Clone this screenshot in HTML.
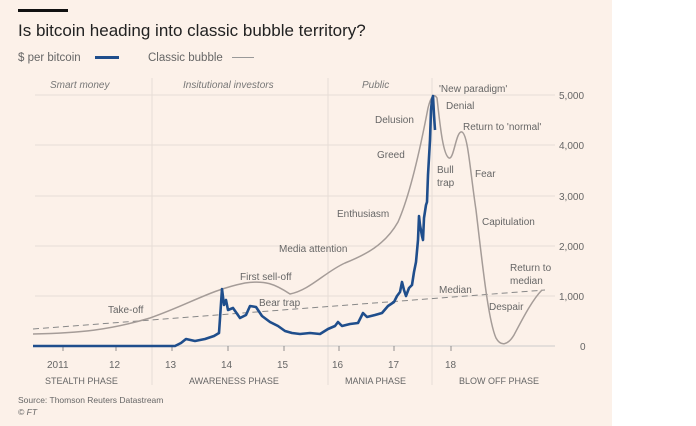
<!DOCTYPE html>
<html><head><meta charset="utf-8"><style>
body{margin:0;width:696px;height:426px;background:#fff;overflow:hidden;font-family:"Liberation Sans",sans-serif}
</style></head><body>
<svg width="696" height="426" style="position:absolute;left:0;top:0" font-family="Liberation Sans, sans-serif">
<rect x="0" y="0" width="612" height="426" fill="#fcf1e9"/>
<rect x="18" y="9" width="50" height="3" fill="#111"/>
<text x="18" y="36" font-size="17" fill="#222">Is bitcoin heading into classic bubble territory?</text>
<text x="18" y="61" font-size="11.5" fill="#666">$ per bitcoin</text>
<rect x="95" y="56" width="24" height="3" fill="#1f4e8c"/>
<text x="148" y="61" font-size="11.5" fill="#666">Classic bubble</text>
<rect x="232" y="57" width="22" height="1" fill="#999"/>
<g stroke="#e6ddd6" stroke-width="1">
<line x1="35" y1="95" x2="555" y2="95"/><line x1="35" y1="145" x2="555" y2="145"/>
<line x1="35" y1="196" x2="555" y2="196"/><line x1="35" y1="246" x2="555" y2="246"/>
<line x1="35" y1="296" x2="555" y2="296"/>
<line x1="152" y1="78" x2="152" y2="385"/><line x1="328" y1="78" x2="328" y2="385"/><line x1="432" y1="78" x2="432" y2="385"/>
</g>
<line x1="35" y1="346" x2="555" y2="346" stroke="#ccc"/>
<g font-size="10" fill="#777" font-style="italic">
<text x="50" y="88">Smart money</text><text x="183" y="88">Insitutional investors</text><text x="362" y="88">Public</text>
</g>
<g font-size="10" fill="#666">
<text x="559" y="99">5,000</text><text x="559" y="149">4,000</text><text x="559" y="200">3,000</text><text x="559" y="250">2,000</text><text x="559" y="300">1,000</text><text x="580" y="350">0</text>
<text x="47" y="368">2011</text><text x="109" y="368">12</text><text x="165" y="368">13</text><text x="221" y="368">14</text><text x="277" y="368">15</text><text x="332" y="368">16</text><text x="388" y="368">17</text><text x="445" y="368">18</text>
<text x="45" y="384" font-size="9">STEALTH PHASE</text><text x="189" y="384" font-size="9">AWARENESS PHASE</text><text x="345" y="384" font-size="9">MANIA PHASE</text><text x="459" y="384" font-size="9">BLOW OFF PHASE</text>
<text x="18" y="403" font-size="8.5">Source: Thomson Reuters Datastream</text><text x="18" y="415" font-size="8.5" font-style="italic">© FT</text>
</g>
<g stroke="#777" stroke-width="0.8">
<line x1="63" y1="346" x2="63" y2="351"/><line x1="116" y1="346" x2="116" y2="351"/><line x1="172" y1="346" x2="172" y2="351"/><line x1="228" y1="346" x2="228" y2="351"/><line x1="284" y1="346" x2="284" y2="351"/><line x1="339" y1="346" x2="339" y2="351"/><line x1="394" y1="346" x2="394" y2="351"/><line x1="451" y1="346" x2="451" y2="351"/>
</g>
<line x1="33" y1="329" x2="545" y2="290" stroke="#888" stroke-dasharray="6,4" stroke-width="1"/>
<path d="M33,334 C80,333 110,330 150,318 C190,304 210,290 245,283 C265,280 275,284 290,294 C310,290 325,272 345,263 C365,255 385,245 398,222 C410,195 420,150 428,108 C431,96 434,93 437,98 C440,125 443,155 449,158 C454,160 456,130 462,132 C468,135 470,170 476,210 C482,260 488,320 496,338 C501,347 508,345 514,335 C522,320 532,300 542,290" fill="none" stroke="#a59c98" stroke-width="1.5"/>
<path d="M33,346 L175,346 L181,343 L186,339 L195,341 L205,339 L214,336 L219,333 L222,289 L224,305 L226,300 L228,310 L233,308 L240,318 L246,315 L250,306 L256,307 L262,316 L270,322 L278,326 L285,331 L292,333 L300,334 L310,333 L320,334 L328,329 L335,326 L338,322 L342,326 L350,324 L358,323 L363,313 L367,317 L375,315 L382,313 L388,306 L394,302 L397,296 L400,292 L402,282 L404,290 L406,296 L409,288 L412,285 L414,272 L416,262 L418,240 L419,216 L420,225 L422,236 L423,240 L424,218 L426,205 L427,202 L428,175 L430,140 L431,110 L432,100 L433,96 L434,115 L435,130" fill="none" stroke="#1f4e8c" stroke-width="2.6" stroke-linejoin="round"/>
<g font-size="10" fill="#666">
<text x="108" y="313">Take-off</text><text x="240" y="280">First sell-off</text><text x="259" y="306">Bear trap</text>
<text x="279" y="252">Media attention</text><text x="337" y="217">Enthusiasm</text><text x="377" y="158">Greed</text><text x="375" y="123">Delusion</text>
<text x="439" y="92">'New paradigm'</text><text x="446" y="109">Denial</text><text x="463" y="130">Return to 'normal'</text>
<text x="437" y="173">Bull</text><text x="437" y="186">trap</text><text x="475" y="177">Fear</text><text x="482" y="225">Capitulation</text>
<text x="510" y="271">Return to</text><text x="510" y="284">median</text><text x="439" y="293">Median</text><text x="489" y="310">Despair</text>
</g>
</svg>
</body></html>
